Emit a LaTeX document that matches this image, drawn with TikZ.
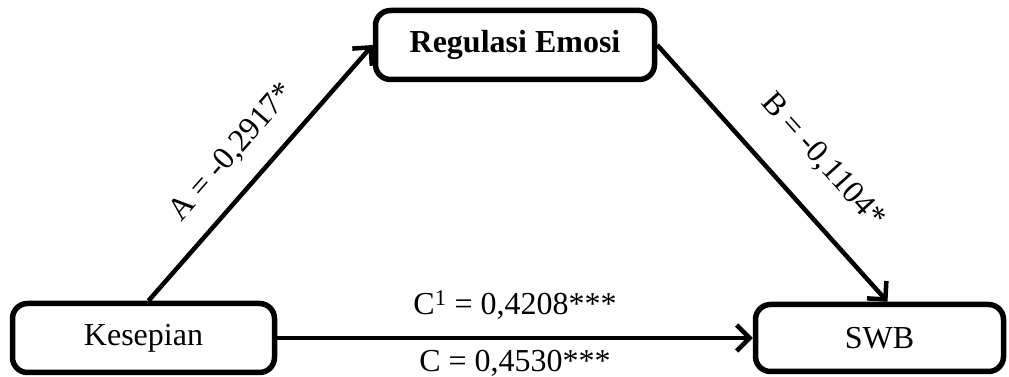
\documentclass[tikz,border=0pt]{standalone}
\usepackage{fontspec}
\setmainfont{Liberation Serif}
\usetikzlibrary{arrows.meta}
\tikzset{
  varbox/.style={draw, line width=5.5pt, rounded corners=15pt, align=center,
    font=\fontsize{32}{38}\selectfont},
  path/.style={line width=4.5pt, -{Straight Barb[length=13pt,width=26pt]}},
  coef/.style={font=\fontsize{32}{38}\selectfont}
}
\begin{document}
\begin{tikzpicture}[x=1pt,y=1pt]
	\useasboundingbox (0,0) rectangle (1009,377);
	\node[varbox, minimum width=279pt, minimum height=69pt] (reg) at (515,332) {\textbf{Regulasi Emosi}};
	\node[varbox, minimum width=262pt, minimum height=69pt] (kes) at (143.5,39) {Kesepian};
	\node[varbox, minimum width=248pt, minimum height=67pt] (swb) at (879.5,39) {SWB};
	\draw[path] ([xshift=5pt]kes.north) -- (reg.west)
		node[coef, sloped, pos=0.49, above=16pt] {A = -0,2917*};
	\draw[path] (reg.east) -- ([xshift=8pt]swb.north)
		node[coef, sloped, pos=0.57, above=27pt] {B = -0,1104*};
	\draw[path] (kes.east) -- (swb.west)
		node[coef, midway, anchor=base, yshift=23pt] {C\textsuperscript{1} = 0,4208***}
		node[coef, midway, anchor=base, yshift=-34pt] {C = 0,4530***};
\end{tikzpicture}
\end{document}
